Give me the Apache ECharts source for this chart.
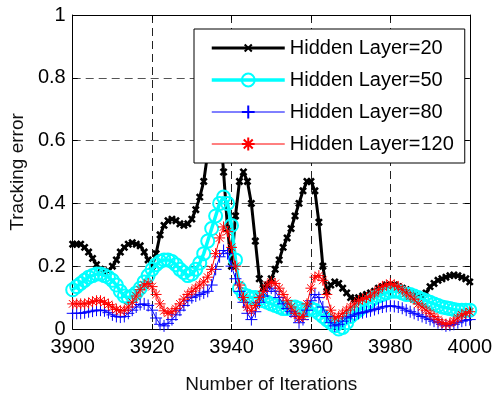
<!DOCTYPE html>
<html>
<head>
<meta charset="utf-8">
<script src="https://cdn.jsdelivr.net/npm/echarts@6/dist/echarts.min.js"></script>
<style>html,body{margin:0;padding:0;background:#fff;}#chart{width:495px;height:399px;}</style>
</head>
<body>
<div id="chart"></div>
<script>
const startIteration = 3900;
const hl20 = [0.27,0.27,0.27,0.26,0.245,0.225,0.205,0.19,0.18,0.185,
0.2,0.22,0.245,0.26,0.27,0.275,0.27,0.265,0.245,0.22,
0.2,0.24,0.3,0.33,0.345,0.35,0.345,0.335,0.33,0.335,
0.35,0.38,0.42,0.47,0.56,0.65,0.7,0.66,0.5,0.32,
0.2,0.36,0.47,0.5,0.47,0.4,0.28,0.16,0.13,0.14,
0.16,0.19,0.22,0.26,0.29,0.32,0.36,0.4,0.44,0.47,
0.47,0.44,0.34,0.2,0.12,0.14,0.15,0.145,0.13,0.115,
0.1,0.095,0.1,0.105,0.11,0.115,0.12,0.13,0.135,0.14,
0.14,0.14,0.135,0.13,0.125,0.115,0.11,0.105,0.105,0.115,
0.135,0.145,0.155,0.16,0.165,0.17,0.172,0.17,0.165,0.16,
0.15];
const hl50 = [0.125,0.135,0.145,0.155,0.165,0.17,0.175,0.175,0.17,0.165,
0.155,0.14,0.12,0.105,0.1,0.105,0.115,0.13,0.15,0.17,
0.19,0.205,0.215,0.22,0.22,0.215,0.205,0.19,0.18,0.17,
0.175,0.19,0.21,0.24,0.28,0.32,0.36,0.4,0.42,0.4,
0.33,0.22,0.13,0.11,0.105,0.1,0.1,0.095,0.09,0.085,
0.08,0.075,0.07,0.065,0.065,0.07,0.07,0.065,0.06,0.06,
0.065,0.06,0.05,0.04,0.03,0.02,0.01,0.0,0.005,0.02,
0.04,0.05,0.06,0.07,0.08,0.09,0.1,0.105,0.11,0.115,
0.12,0.12,0.12,0.115,0.11,0.11,0.105,0.1,0.095,0.09,
0.085,0.08,0.075,0.07,0.068,0.065,0.062,0.06,0.06,0.06,
0.06];
const hl80 = [0.05,0.05,0.05,0.052,0.055,0.057,0.06,0.06,0.058,0.052,
0.045,0.04,0.038,0.04,0.05,0.06,0.07,0.078,0.08,0.075,
0.06,0.035,0.015,0.01,0.018,0.03,0.045,0.06,0.075,0.09,
0.1,0.105,0.11,0.115,0.12,0.14,0.19,0.23,0.25,0.24,
0.2,0.16,0.12,0.085,0.05,0.03,0.055,0.085,0.105,0.12,
0.13,0.12,0.1,0.08,0.065,0.055,0.04,0.02,0.03,0.06,
0.09,0.11,0.1,0.07,0.04,0.02,0.01,0.015,0.025,0.035,
0.04,0.045,0.05,0.052,0.055,0.058,0.062,0.066,0.07,0.072,
0.074,0.072,0.07,0.066,0.06,0.055,0.05,0.045,0.04,0.035,
0.03,0.025,0.02,0.015,0.01,0.012,0.015,0.02,0.025,0.028,
0.03];
const hl120 = [0.08,0.08,0.08,0.08,0.083,0.087,0.09,0.09,0.085,0.078,
0.07,0.062,0.058,0.06,0.07,0.085,0.105,0.125,0.14,0.145,
0.135,0.11,0.08,0.058,0.05,0.055,0.065,0.08,0.095,0.11,
0.12,0.13,0.14,0.15,0.165,0.19,0.24,0.29,0.325,0.31,
0.26,0.2,0.14,0.1,0.07,0.058,0.075,0.1,0.12,0.14,
0.15,0.145,0.13,0.11,0.09,0.07,0.05,0.035,0.04,0.08,
0.13,0.165,0.17,0.155,0.11,0.06,0.035,0.04,0.05,0.06,
0.07,0.08,0.09,0.095,0.1,0.105,0.115,0.125,0.135,0.14,
0.145,0.14,0.135,0.125,0.115,0.105,0.095,0.08,0.07,0.06,
0.05,0.04,0.03,0.02,0.015,0.018,0.025,0.035,0.045,0.05,
0.055];
const seriesNames = ['Hidden Layer=20','Hidden Layer=50','Hidden Layer=80','Hidden Layer=120'];
const xTicks = [3900, 3920, 3940, 3960, 3980, 4000];
const yTicks = [0, 0.2, 0.4, 0.6, 0.8, 1];

function pairs(vals){ return vals.map((v,i)=>[startIteration + i, v]); }

const FONT = 'Liberation Sans, Arial, Helvetica, sans-serif';
const xSym = 'path://M-4,-4 M14,14 M0,0 L10,10 M0,10 L10,0';
const plusSym = 'path://M0,5 L10,5 M5,0 L5,10';
const starSym = 'path://M0,5 L10,5 M5,0 L5,10 M1.5,1.5 L8.5,8.5 M1.5,8.5 L8.5,1.5';
const lineWidths = [3, 3.5, 1, 1];
const colors = ['#000000', '#00ffff', '#0000ff', '#ff0000'];

const chart = echarts.init(document.getElementById('chart'), null, {renderer:'canvas'});
const axisCommon = {
  type: 'value',
  axisLine: {show: true, onZero: false, lineStyle: {color: '#000', width: 1}},
  axisTick: {show: true, inside: true, length: 5, lineStyle: {color: '#000'}},
};
chart.setOption({
  animation: false,
  backgroundColor: '#fff',
  grid: {left: 67, right: 21, top: 15, bottom: 63, containLabel: false},
  xAxis: [
    Object.assign({}, axisCommon, {
      min: xTicks[0], max: xTicks[xTicks.length-1], interval: 20, position: 'bottom',
      axisLabel: {color: '#000', fontSize: 20, fontFamily: FONT, margin: 8, formatter: v => String(v)},
      splitLine: {show: true, showMinLine: false, showMaxLine: false, lineStyle: {color: '#222', type: [8,5], width: 1}},
      name: 'Number of Iterations', nameLocation: 'middle', nameGap: 46,
      nameTextStyle: {color: '#111', fontSize: 19, fontFamily: FONT}
    }),
    Object.assign({}, axisCommon, {
      min: xTicks[0], max: xTicks[xTicks.length-1], interval: 20, position: 'top',
      axisLabel: {show: false}, splitLine: {show: false}
    })
  ],
  yAxis: [
    Object.assign({}, axisCommon, {
      min: yTicks[0], max: yTicks[yTicks.length-1], interval: 0.2, position: 'left',
      axisLabel: {color: '#000', fontSize: 20, fontFamily: FONT, margin: 7},
      splitLine: {show: true, showMinLine: false, showMaxLine: false, lineStyle: {color: '#555', type: [8,5], width: 1}},
      name: 'Tracking error', nameLocation: 'middle', nameGap: 40,
      nameTextStyle: {color: '#111', fontSize: 19, fontFamily: FONT}
    }),
    Object.assign({}, axisCommon, {
      min: yTicks[0], max: yTicks[yTicks.length-1], interval: 0.2, position: 'right',
      axisLabel: {show: false}, splitLine: {show: false}
    })
  ],
  legend: {
    left: 194, top: 29, orient: 'vertical',
    padding: [9, 11, 9, 16],
    backgroundColor: '#fff', borderColor: '#000', borderWidth: 1, borderRadius: 0,
    itemWidth: 73, itemHeight: 16, itemGap: 12,
    textStyle: {color: '#000', fontSize: 20, fontFamily: FONT, lineHeight: 20},
    data: seriesNames.map((n, i) => ({name: n, lineStyle: {width: lineWidths[i], color: colors[i]}}))
  },
  series: [
    {name: seriesNames[0], type: 'line', data: pairs(hl20), symbol: xSym, symbolSize: 11,
     lineStyle: {color: colors[0], width: lineWidths[0]}, itemStyle: {color: colors[0], borderColor: colors[0], borderWidth: 2.6}, z: 2},
    {name: seriesNames[1], type: 'line', data: pairs(hl50), symbol: 'circle', symbolSize: 13,
     lineStyle: {color: colors[1], width: lineWidths[1]}, itemStyle: {color: 'rgba(0,0,0,0)', borderColor: colors[1], borderWidth: 2}, z: 3},
    {name: seriesNames[2], type: 'line', data: pairs(hl80), symbol: plusSym, symbolSize: 12,
     lineStyle: {color: colors[2], width: lineWidths[2]}, itemStyle: {color: colors[2], borderColor: colors[2], borderWidth: 1}, z: 4},
    {name: seriesNames[3], type: 'line', data: pairs(hl120), symbol: starSym, symbolSize: 11,
     lineStyle: {color: colors[3], width: lineWidths[3]}, itemStyle: {color: colors[3], borderColor: colors[3], borderWidth: 1}, z: 5}
  ]
});
</script>
</body>
</html>
